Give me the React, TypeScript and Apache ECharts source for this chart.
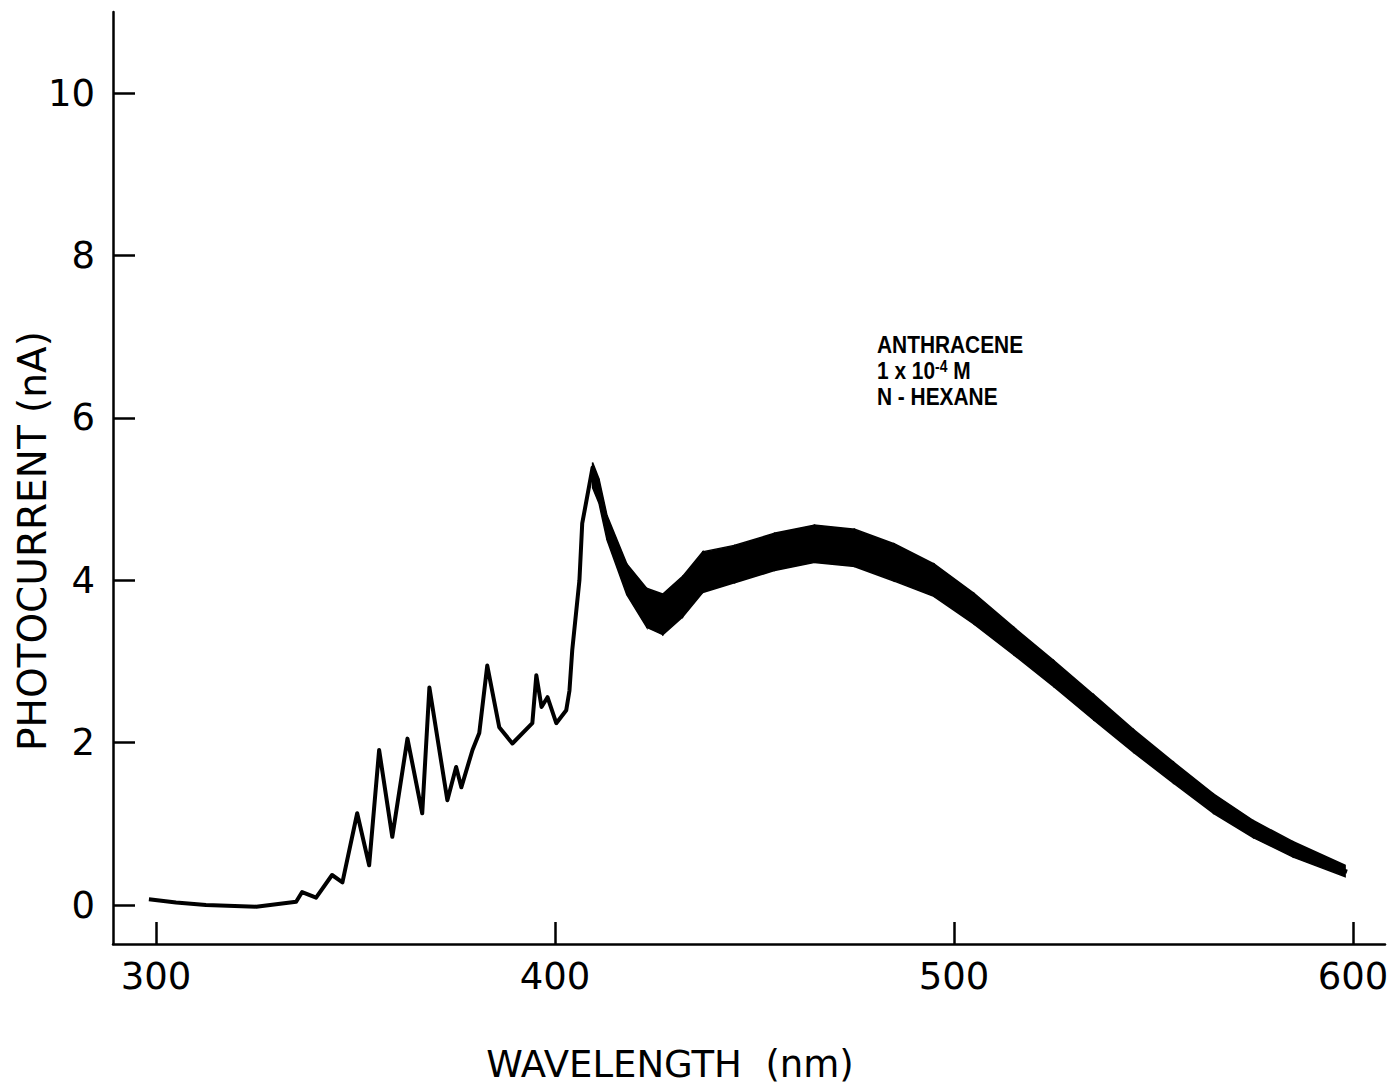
import React, { useEffect, useRef } from "react";
import * as echarts from "echarts";

// Wavelength (nm) and photocurrent (nA) read along the centre of the trace
const wavelength = [298.2, 305, 312.5, 325.1, 335.1, 336.6, 340.1, 344.1, 346.7, 350.4, 353.4, 355.9, 359.2, 363.0, 366.7, 368.5, 373.0, 375.2, 376.5, 379.3, 381.0, 383.0, 386.0, 389.3, 394.3, 395.3, 396.6, 398.1, 400.3, 402.8, 403.6, 404.3, 406.1, 406.8, 409.4, 411.1, 413.6, 416.1, 418.6, 422.9, 426.2, 431.2, 435.4, 441.2, 446.2, 453.0, 461.3, 469.6, 478.1, 486.4, 494.6, 503.2, 511.4, 519.7, 528.2, 536.5, 544.8, 553.3, 561.6, 570.0, 578.4, 586.7, 594.9, 598.5];
const photocurrent = [0.07, 0.03, 0.0, -0.02, 0.04, 0.16, 0.09, 0.37, 0.28, 1.13, 0.49, 1.91, 0.84, 2.05, 1.13, 2.68, 1.29, 1.7, 1.45, 1.91, 2.12, 2.95, 2.19, 1.99, 2.24, 2.83, 2.44, 2.56, 2.24, 2.4, 2.64, 3.14, 4.0, 4.7, 5.39, 5.1, 4.58, 4.21, 4.0, 3.67, 3.59, 3.79, 4.08, 4.16, 4.21, 4.33, 4.45, 4.45, 4.37, 4.21, 4.0, 3.71, 3.43, 3.05, 2.73, 2.36, 2.03, 1.7, 1.38, 1.08, 0.84, 0.64, 0.47, 0.41];

// Noise envelope of the trace (lower / upper edge of the dark band)
const bandWavelength = [409.4, 411, 413, 418, 423, 427, 432, 437, 445, 455, 465, 475, 485, 495, 505, 515, 525, 535, 545, 555, 565, 575, 585, 598];
const bandLow = [5.14, 4.95, 4.5, 3.82, 3.42, 3.33, 3.55, 3.85, 3.97, 4.12, 4.22, 4.17, 3.99, 3.8, 3.46, 3.08, 2.69, 2.28, 1.88, 1.5, 1.13, 0.83, 0.59, 0.35];
const bandHigh = [5.45, 5.25, 4.8, 4.2, 3.9, 3.83, 4.05, 4.35, 4.43, 4.58, 4.68, 4.63, 4.45, 4.2, 3.84, 3.42, 3.01, 2.59, 2.16, 1.76, 1.37, 1.04, 0.78, 0.49];

const xTicks = [300, 400, 500, 600];
const yTicks = [0, 2, 4, 6, 8, 10];

const FONT = "'DejaVu Sans', 'Liberation Sans', sans-serif";
const NOTE_FONT = "'Liberation Sans', 'DejaVu Sans', sans-serif";

export default function App() {
  const ref = useRef<HTMLDivElement>(null);

  useEffect(() => {
    document.body.style.margin = "0";
    if (!ref.current) return;
    const chart = echarts.init(ref.current, null, { renderer: "svg" });

    const lineData = wavelength.map((w, i) => [w, photocurrent[i]]);
    const bandData = bandWavelength.slice(0, -1).map((w, i) => [w, bandLow[i], bandHigh[i], i]);

    const noteText = (text: string, y: number, extra: any = {}) => ({
      type: "text",
      x: 877,
      y,
      scaleX: 0.87,
      style: {
        text,
        fill: "#000",
        font: `bold 24px ${NOTE_FONT}`,
        textAlign: "left",
        textVerticalAlign: "middle",
        ...extra,
      },
    });

    chart.setOption({
      animation: false,
      backgroundColor: "#ffffff",
      grid: { left: 113, top: 12, right: 13, bottom: 146, containLabel: false },
      xAxis: {
        type: "value",
        min: 289.2,
        max: 608,
        axisLine: { show: true, onZero: false, lineStyle: { color: "#000", width: 2.5 } },
        axisTick: { show: true, inside: true, length: 22, customValues: xTicks, lineStyle: { color: "#000", width: 2.5 } },
        axisLabel: { show: true, customValues: xTicks, margin: 14, color: "#000", fontFamily: FONT, fontSize: 37 },
        splitLine: { show: false },
      },
      yAxis: {
        type: "value",
        min: -0.48,
        max: 11,
        axisLine: { show: true, onZero: false, lineStyle: { color: "#000", width: 2.5 } },
        axisTick: { show: true, inside: true, length: 22, customValues: yTicks, lineStyle: { color: "#000", width: 2.5 } },
        axisLabel: { show: true, customValues: yTicks, margin: 18, color: "#000", fontFamily: FONT, fontSize: 37 },
        splitLine: { show: false },
      },
      series: [
        {
          type: "line",
          data: lineData,
          showSymbol: false,
          lineStyle: { color: "#000", width: 4, join: "round" },
          z: 3,
        },
        {
          type: "custom",
          data: bandData,
          renderItem: (params: any, api: any) => {
            const i = api.value(3);
            const p1 = api.coord([bandWavelength[i], bandLow[i]]);
            const p2 = api.coord([bandWavelength[i + 1], bandLow[i + 1]]);
            const p3 = api.coord([bandWavelength[i + 1], bandHigh[i + 1]]);
            const p4 = api.coord([bandWavelength[i], bandHigh[i]]);
            return {
              type: "polygon",
              shape: { points: [p1, p2, p3, p4] },
              style: { fill: "#000", stroke: "#000", lineWidth: 1.5 },
            };
          },
          z: 2,
        },
      ],
      graphic: [
        {
          type: "text",
          x: 32,
          y: 541,
          rotation: Math.PI / 2,
          style: {
            text: "PHOTOCURRENT (nA)",
            fill: "#000",
            font: `39px ${FONT}`,
            textAlign: "center",
            textVerticalAlign: "middle",
          },
        },
        {
          type: "text",
          x: 670,
          y: 1064,
          style: {
            text: "WAVELENGTH  (nm)",
            fill: "#000",
            font: `37px ${FONT}`,
            textAlign: "center",
            textVerticalAlign: "middle",
          },
        },
        noteText("ANTHRACENE", 345),
        noteText("1 x 10{sup|-4} M", 371, {
          rich: {
            sup: {
              font: `bold 16px ${NOTE_FONT}`,
              fill: "#000",
              verticalAlign: "top",
              padding: [0, 0, 10, 0],
            },
          },
        }),
        noteText("N - HEXANE", 397),
      ],
    });

    return () => chart.dispose();
  }, []);

  return <div ref={ref} style={{ width: 1398, height: 1090 }} />;
}
